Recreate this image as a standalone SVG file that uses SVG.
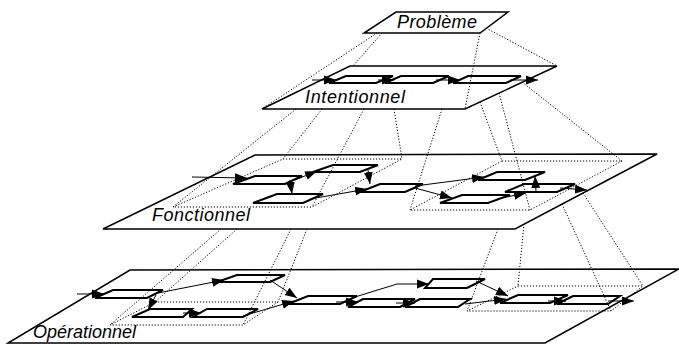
<svg xmlns="http://www.w3.org/2000/svg" width="679" height="344" viewBox="0 0 679 344">
<defs>
<marker id="ah" markerUnits="userSpaceOnUse" markerWidth="12" markerHeight="10" refX="12" refY="5" orient="auto"><path d="M0,0.5 L12,5 L0,9.5 z" fill="#000"/></marker>
</defs>
<style>
.plane{fill:#fff;stroke:#000;stroke-width:1.5}
.box{fill:#fff;stroke:#000;stroke-width:2}
.reg{fill:none;stroke:#000;stroke-width:1;stroke-dasharray:1.2 1.8}
.proj{fill:none;stroke:#000;stroke-width:1;stroke-dasharray:1.2 1.8}
.flow{fill:none;stroke:#000;stroke-width:1;marker-end:url(#ah)}
.lbl{font-family:"Liberation Sans",Arial,sans-serif;font-style:italic;font-size:18px;fill:#000}
</style>
<!-- planes -->
<g id="plane-operationnel"><polygon class="plane" points="130,270 679,269 545,343 8,343"/><text class="lbl" x="33" y="338" textLength="103">Opérationnel</text></g>
<g id="plane-fonctionnel"><polygon class="plane" points="255,155 657,154 515,229 103,229"/><text class="lbl" x="152" y="221" textLength="98">Fonctionnel</text></g>
<g id="plane-intentionnel"><polygon class="plane" points="350,66 557,66 465,109 262,109"/><text class="lbl" x="305" y="103" textLength="100">Intentionnel</text></g>
<g id="plane-probleme"><polygon class="plane" points="396,12 508,12 480,33 364,33"/><text class="lbl" x="397" y="28" textLength="80">Problème</text></g>
<!-- dotted refinement regions -->
<g id="region-f-left"><polygon class="reg" points="283,159 402,159 312,207 173,207"/></g>
<g id="region-f-right"><polygon class="reg" points="502,161 622,161 530,210 410,210"/></g>
<g id="region-o-left"><polygon class="reg" points="155,302 278,302 243,325 110,325"/></g>
<g id="region-o-right"><polygon class="reg" points="518,286 643,286 611,311 467,311"/></g>
<!-- intentional boxes -->
<g id="i1"><polygon class="box" points="329,83 376,83 393,76 346,76"/></g>
<g id="i2"><polygon class="box" points="385,83 433,83 449,76 401,76"/></g>
<g id="i3"><polygon class="box" points="453,83 506,83 521,76 468,76"/></g>
<!-- functional boxes -->
<g id="fA"><polygon class="box" points="233,184 285,184 302,176 255,176"/></g>
<g id="fB"><polygon class="box" points="313,172 360,172 378,165 333,165"/></g>
<g id="fC"><polygon class="box" points="253,203 303,203 323,194 277,194"/></g>
<g id="fD"><polygon class="box" points="360,192 405,192 423,184 380,184"/></g>
<g id="fE"><polygon class="box" points="478,180 525,180 545,172 497,172"/></g>
<g id="fF"><polygon class="box" points="440,203 488,203 510,195 462,195"/></g>
<g id="fG"><polygon class="box" points="505,192 557,192 575,184 524,184"/></g>
<!-- operational boxes -->
<g id="oH"><polygon class="box" points="95,298 147,298 163,290 113,290"/></g>
<g id="oI"><polygon class="box" points="217,282 270,282 285,275 237,275"/></g>
<g id="oJ"><polygon class="box" points="132,317 183,317 192,309 150,309"/></g>
<g id="oK"><polygon class="box" points="193,317 243,317 258,309 207,309"/></g>
<g id="oL"><polygon class="box" points="288,304 340,304 357,296 308,296"/></g>
<g id="oM"><polygon class="box" points="348,307 400,307 415,299 363,299"/></g>
<g id="oN"><polygon class="box" points="425,288 467,288 485,279 433,279"/></g>
<g id="oO"><polygon class="box" points="405,307 458,307 470,299 420,299"/></g>
<g id="oP"><polygon class="box" points="500,303 550,303 568,295 518,295"/></g>
<g id="oQ"><polygon class="box" points="557,304 608,304 620,296 573,296"/></g>
<!-- connectors -->
<g id="connectors">
<!-- projection lines -->
<line class="proj" x1="377" y1="33" x2="262" y2="109"/>
<line class="proj" x1="382" y1="33" x2="353" y2="66"/>
<line class="proj" x1="480" y1="33" x2="465" y2="109"/>
<line class="proj" x1="486" y1="28" x2="557" y2="66"/>
<line class="proj" x1="296" y1="109" x2="173" y2="207"/>
<line class="proj" x1="322" y1="109" x2="283" y2="159"/>
<line class="proj" x1="364" y1="109" x2="312" y2="207"/>
<line class="proj" x1="394" y1="109" x2="402" y2="159"/>
<line class="proj" x1="442" y1="109" x2="410" y2="210"/>
<line class="proj" x1="480" y1="102" x2="502" y2="161"/>
<line class="proj" x1="499" y1="93" x2="530" y2="210"/>
<line class="proj" x1="522" y1="82" x2="622" y2="161"/>
<line class="proj" x1="221" y1="229" x2="110" y2="325"/>
<line class="proj" x1="237" y1="229" x2="155" y2="302"/>
<line class="proj" x1="291" y1="229" x2="243" y2="325"/>
<line class="proj" x1="307" y1="229" x2="278" y2="302"/>
<line class="proj" x1="498" y1="229" x2="467" y2="311"/>
<line class="proj" x1="524" y1="224" x2="518" y2="286"/>
<line class="proj" x1="562" y1="204" x2="611" y2="311"/>
<line class="proj" x1="583" y1="193" x2="643" y2="286"/>
<!-- intentional flow -->
<line class="flow" x1="312" y1="80" x2="336" y2="80"/>
<line class="flow" x1="378" y1="80" x2="394" y2="80"/>
<line class="flow" x1="436" y1="80" x2="460" y2="80"/>
<line class="flow" x1="510" y1="80" x2="538" y2="80"/>
<!-- functional flow -->
<line class="flow" x1="192" y1="177" x2="247" y2="178"/>
<line class="flow" x1="295" y1="180" x2="317" y2="171"/>
<line class="flow" x1="290" y1="180" x2="292" y2="194"/>
<line class="flow" x1="368" y1="170" x2="370" y2="184"/>
<line class="flow" x1="310" y1="199" x2="367" y2="189"/>
<line class="flow" x1="415" y1="186" x2="484" y2="177"/>
<line class="flow" x1="415" y1="188" x2="452" y2="198"/>
<line class="flow" x1="497" y1="199" x2="526" y2="193"/>
<line class="flow" x1="536" y1="191" x2="535" y2="176"/>
<line class="flow" x1="560" y1="188" x2="587" y2="190"/>
<!-- operational flow -->
<line class="flow" x1="77" y1="294" x2="104" y2="294"/>
<line class="flow" x1="158" y1="293" x2="224" y2="280"/>
<line class="flow" x1="156" y1="295" x2="148" y2="310"/>
<line class="flow" x1="183" y1="313" x2="201" y2="313"/>
<line class="flow" x1="243" y1="316" x2="294" y2="301"/>
<line class="flow" x1="270" y1="280" x2="297" y2="298"/>
<line class="flow" x1="336" y1="302" x2="358" y2="302"/>
<polyline class="flow" points="355,297 397,284 429,284"/>
<line class="flow" x1="396" y1="303" x2="415" y2="303"/>
<line class="flow" x1="476" y1="281" x2="508" y2="296"/>
<line class="flow" x1="465" y1="304" x2="506" y2="299"/>
<line class="flow" x1="548" y1="301" x2="566" y2="301"/>
<line class="flow" x1="608" y1="301" x2="634" y2="301"/>
</g>
</svg>
